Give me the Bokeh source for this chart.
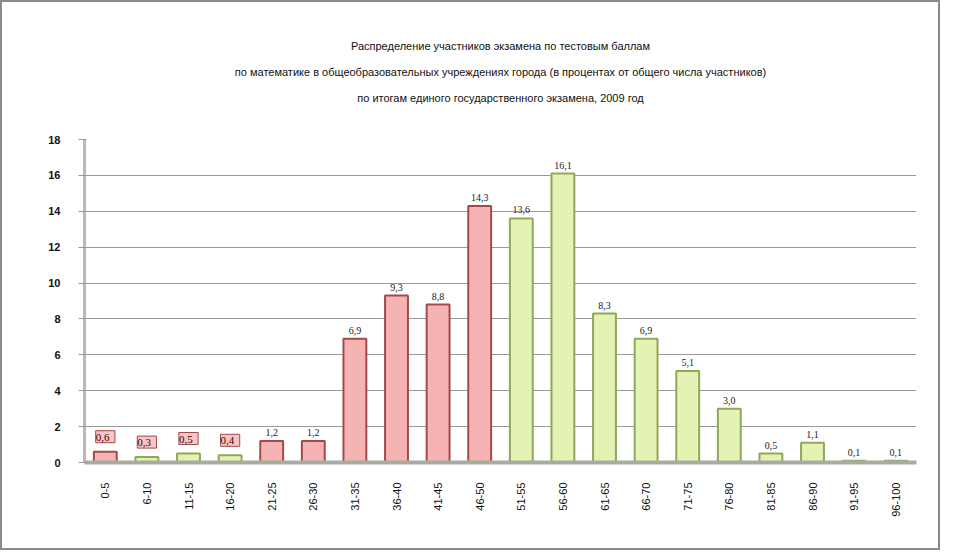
import math
from bokeh.plotting import figure
from bokeh.models import ColumnDataSource, Range1d, FixedTicker, LabelSet, Title
from bokeh.embed import file_html
from bokeh.resources import INLINE

# ---- data ----
categories = ["0-5", "6-10", "11-15", "16-20", "21-25", "26-30", "31-35", "36-40",
              "41-45", "46-50", "51-55", "56-60", "61-65", "66-70", "71-75", "76-80",
              "81-85", "86-90", "91-95", "96-100"]
values = [0.6, 0.3, 0.5, 0.4, 1.2, 1.2, 6.9, 9.3, 8.8, 14.3, 13.6, 16.1,
          8.3, 6.9, 5.1, 3.0, 0.5, 1.1, 0.1, 0.1]
groups = ["r", "g", "g", "g", "r", "r", "r", "r", "r", "r",
          "g", "g", "g", "g", "g", "g", "g", "g", "g", "g"]
y_ticks = [0, 2, 4, 6, 8, 10, 12, 14, 16, 18]
title_lines = [
    "Распределение участников экзамена по тестовым баллам",
    "по математике в общеобразовательных учреждениях города (в процентах от общего числа участников)",
    "по итогам единого государственного экзамена, 2009 год",
]

FONT = "Liberation Sans"
fill_map = {"r": "#f6b3b3", "g": "#e4f2b4"}
line_map = {"r": "#a24a4a", "g": "#8fa85a"}

labels = [("%.1f" % v).replace(".", ",") for v in values]
src = ColumnDataSource(dict(
    cat=categories, val=values, lab=labels,
    fill=[fill_map[g] for g in groups], line=[line_map[g] for g in groups],
))
n_box = 4
src_box = ColumnDataSource(dict(cat=categories[:n_box], val=values[:n_box],
                                lab=[" " + s + " " for s in labels[:n_box]]))
src_top = ColumnDataSource(dict(cat=categories[n_box:], val=values[n_box:], lab=labels[n_box:]))

p = figure(x_range=categories, y_range=Range1d(0, 18), width=940, height=550,
           output_backend="svg", toolbar_location=None,
           min_border_left=82, min_border_right=26, min_border_top=137, min_border_bottom=90,
           styles={"border": "2px solid #8a8a8a"})

# spacer between the title block and the plot area
p.add_layout(Title(text=" ", text_font=FONT, text_font_size="20px", standoff=6), "above")
for txt in reversed(title_lines):
    p.add_layout(Title(text=txt, align="center", text_font=FONT, text_font_size="11px",
                       text_font_style="normal", text_color="#111111", standoff=12), "above")

p.vbar(x="cat", top="val", width=0.55, source=src, fill_color="fill",
       line_color="line", line_width=2)

p.add_layout(LabelSet(x="cat", y="val", text="lab", source=src_top, text_align="center",
                      y_offset=5, text_font=FONT, text_font_size="10px", text_color="#222222"))
p.add_layout(LabelSet(x="cat", y="val", text="lab", source=src_box, text_align="center",
                      y_offset=9, text_font=FONT, text_font_size="11px", text_color="#3a0000",
                      background_fill_color="#f8c4c4", border_line_color="#a24a4a",
                      border_line_width=1))

p.yaxis.ticker = FixedTicker(ticks=y_ticks)
p.ygrid.ticker = FixedTicker(ticks=y_ticks)
p.ygrid.grid_line_color = "#9a9a9a"
p.xgrid.grid_line_color = None
p.outline_line_color = None

p.yaxis.axis_line_color = "#b8b8b8"
p.yaxis.axis_line_width = 3
p.yaxis.major_tick_line_color = "#999999"
p.yaxis.minor_tick_line_color = None
p.yaxis.major_label_text_font = FONT
p.yaxis.major_label_text_font_size = "11px"
p.yaxis.major_label_text_font_style = "bold"
p.yaxis.major_label_text_color = "#111111"
p.yaxis.major_label_standoff = 18

p.xaxis.axis_line_color = "#a8aca0"
p.xaxis.axis_line_width = 4
p.xaxis.major_tick_line_color = None
p.xaxis.major_label_orientation = math.pi / 2
p.xaxis.major_label_text_font = FONT
p.xaxis.major_label_text_font_size = "11px"
p.xaxis.major_label_text_color = "#111111"
p.xaxis.major_label_standoff = 14

p.background_fill_color = "white"
p.border_fill_color = "white"

open("out.html", "w").write(file_html(p, INLINE))
